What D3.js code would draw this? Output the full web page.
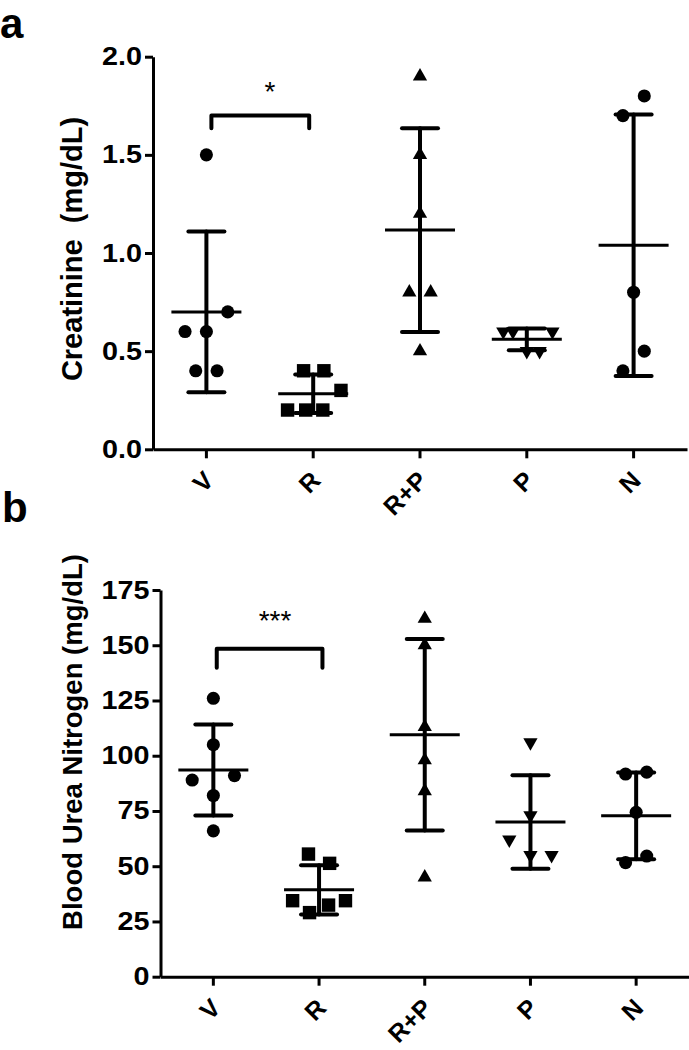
<!DOCTYPE html>
<html>
<head>
<meta charset="utf-8">
<script src="https://cdn.jsdelivr.net/npm/d3@7"></script>
<style>
  html, body { margin: 0; padding: 0; background: #fff; }
  svg { display: block; font-family: "Liberation Sans", Arial, sans-serif; }
</style>
</head>
<body>
<svg id="chart" width="689" height="1050"></svg>
<script>
// ---------- data ----------
const categories = ["V", "R", "R+P", "P", "N"];
const symbols = ["circle", "square", "triangle", "triangleDown", "circle"];

// Panel a: Creatinine (mg/dL)
const creatValues = [
  [1.5, 0.7, 0.6, 0.6, 0.4, 0.4],
  [0.4, 0.4, 0.3, 0.2, 0.2, 0.2],
  [1.9, 1.5, 1.2, 0.8, 0.8, 0.5],
  [0.6, 0.6, 0.6, 0.5, 0.5],
  [1.8, 1.7, 0.8, 0.5, 0.4]
];
const creatSpread = [
  [0, 2, -2, 0, -1, 1],
  [-0.9, 1, 2.6, -2.4, -0.7, 0.9],
  [0, 0, 0, -1, 1, 0],
  [-2.2, -1.3, 2.4, 0, 1.2],
  [1, -1, 0, 1, -1]
];
const creatMean = [0.70, 0.283, 1.117, 0.56, 1.04];
const creatSD = [0.41, 0.098, 0.519, 0.055, 0.666];
const creatTicks = [0, 0.5, 1.0, 1.5, 2.0];

// Panel b: Blood Urea Nitrogen (mg/dL)
const bunValues = [
  [126, 105, 91, 89, 82, 66],
  [55.5, 51.3, 34.4, 34.4, 32.4, 29],
  [162, 150, 113, 98, 84, 45],
  [106, 73, 62, 55, 55],
  [92.6, 91.7, 74.4, 54.6, 51.6]
];
const bunSpread = [
  [0, 0, 2, -2, 0, 0],
  [-1, 1, -2.5, 2.5, 0.9, -0.9],
  [0, 0, 0, 0, 0, 0],
  [0, 0, -2, 0, 2],
  [1, -1, 0, 1, -1]
];
const bunMean = [93.5, 39.3, 109.5, 70.0, 72.8];
const bunSD = [20.6, 11.1, 43.3, 21.2, 19.6];
const bunTicks = [0, 25, 50, 75, 100, 125, 150, 175];

// ---------- drawing ----------
const svg = d3.select("#chart");
const FONT = "Liberation Sans, Arial, sans-serif";
const TICK_STRETCH = 1.15;

function symbolPath(type) {
  if (type === "circle") return d3.symbol(d3.symbolCircle, 135)();
  if (type === "square") return d3.symbol(d3.symbolSquare, 180)();
  return d3.symbol(d3.symbolTriangle, 88)();
}

function drawPanel(cfg) {
  const g = svg.append("g");
  const x = d3.scaleBand().domain(categories).range([cfg.left, cfg.right]).paddingInner(0).paddingOuter(0);
  const y = d3.scaleLinear().domain([0, cfg.max]).range([cfg.bottom, cfg.top]);
  const step = x.step();
  const cx = c => x(c) + x.bandwidth() / 2;

  // y axis
  const yAxis = g.append("g")
    .attr("transform", `translate(${cfg.left},0)`)
    .call(d3.axisLeft(y).tickValues(cfg.ticks).tickFormat(cfg.fmt).tickSize(8).tickSizeOuter(0).tickPadding(3));
  yAxis.select(".domain").attr("stroke-width", 3);
  yAxis.selectAll(".tick line").attr("stroke-width", 3);
  yAxis.selectAll(".tick text")
    .attr("font-size", 25).attr("font-weight", "bold").attr("fill", "#000")
    .attr("font-family", FONT)
    .attr("x", -11 / TICK_STRETCH)
    .attr("transform", `scale(${TICK_STRETCH},1)`);

  // x axis
  const xAxis = g.append("g")
    .attr("transform", `translate(0,${cfg.bottom})`)
    .call(d3.axisBottom(x).tickSize(9).tickSizeOuter(0).tickFormat(""));
  xAxis.select(".domain").attr("stroke-width", 3);
  xAxis.selectAll(".tick line").attr("stroke-width", 3);
  xAxis.selectAll(".tick").append("text")
    .attr("transform", `translate(${cfg.labelDx},${cfg.labelDy}) rotate(-45)`)
    .attr("text-anchor", "end")
    .attr("dy", "0.72em")
    .attr("font-size", 25).attr("font-weight", "bold").attr("fill", "#000")
    .attr("font-family", FONT)
    .text(d => d);

  // points
  categories.forEach((c, i) => {
    const vals = cfg.values[i];
    const spread = cfg.spread[i];
    const type = symbols[i];
    g.append("g").selectAll("path")
      .data(vals.map((v, j) => ({ v, s: spread[j] })))
      .join("path")
      .attr("d", symbolPath(type))
      .attr("transform", d => `translate(${cx(c) + d.s * step / 10},${y(d.v)})` + (type === "triangleDown" ? " rotate(180)" : ""))
      .attr("fill", "#000");
  });

  // mean and SD
  categories.forEach((c, i) => {
    const m = cfg.mean[i], s = cfg.sd[i];
    const xc = cx(c);
    const eg = g.append("g").attr("stroke", "#000").attr("stroke-linecap", "round");
    eg.append("line").attr("x1", xc).attr("x2", xc).attr("y1", y(m + s)).attr("y2", y(m - s)).attr("stroke-width", 4);
    eg.append("line").attr("x1", xc - 18).attr("x2", xc + 18).attr("y1", y(m + s)).attr("y2", y(m + s)).attr("stroke-width", 4);
    eg.append("line").attr("x1", xc - 18).attr("x2", xc + 18).attr("y1", y(m - s)).attr("y2", y(m - s)).attr("stroke-width", 4);
    eg.append("line").attr("x1", xc - 35).attr("x2", xc + 35).attr("y1", y(m)).attr("y2", y(m))
      .attr("stroke-width", 3).attr("stroke-linecap", "butt");
  });

  // significance bracket
  const bx1 = cx(categories[0]) + cfg.bracketInset;
  const bx2 = cx(categories[1]) + cfg.bracketInset2;
  const byTop = y(cfg.bracketTop), byBot = y(cfg.bracketBottom);
  g.append("path")
    .attr("d", `M${bx1},${byBot} L${bx1},${byTop} L${bx2},${byTop} L${bx2},${byBot}`)
    .attr("fill", "none").attr("stroke", "#000").attr("stroke-width", 4)
    .attr("stroke-linecap", "round").attr("stroke-linejoin", "round");
  g.append("text")
    .attr("x", cfg.starX).attr("y", cfg.starY)
    .attr("text-anchor", "middle").attr("font-size", 28).attr("fill", "#000")
    .attr("font-family", FONT)
    .text(cfg.stars);

  // y title
  g.append("text")
    .attr("transform", `translate(${cfg.titleX},${cfg.titleY}) rotate(-90)`)
    .attr("text-anchor", "middle")
    .attr("font-size", cfg.titleSize).attr("font-weight", "bold").attr("fill", "#000")
    .attr("font-family", FONT)
    .style("white-space", "pre")
    .text(cfg.title);

  // panel letter
  g.append("text")
    .attr("x", cfg.letterX).attr("y", cfg.letterY)
    .attr("font-size", 42).attr("font-weight", "bold").attr("fill", "#000")
    .attr("font-family", FONT)
    .text(cfg.letter);
}

drawPanel({
  values: creatValues, spread: creatSpread, mean: creatMean, sd: creatSD,
  ticks: creatTicks, fmt: d3.format(".1f"), max: 2.0,
  left: 153, right: 687, top: 56.7, bottom: 449.3, labelDx: -4, labelDy: 20,
  bracketTop: 1.70, bracketBottom: 1.636, bracketInset: 5, bracketInset2: -4,
  starX: 270, starY: 101, stars: "*",
  title: "Creatinine  (mg/dL)", titleSize: 29, titleX: 82, titleY: 249,
  letter: "a", letterX: 0, letterY: 38
});

drawPanel({
  values: bunValues, spread: bunSpread, mean: bunMean, sd: bunSD,
  ticks: bunTicks, fmt: d3.format("d"), max: 175,
  left: 160.5, right: 689, top: 590, bottom: 976.7, labelDx: -4, labelDy: 20,
  bracketTop: 148.4, bracketBottom: 139.8, bracketInset: 3.4, bracketInset2: 3.4,
  starX: 275, starY: 630, stars: "***",
  title: "Blood Urea Nitrogen (mg/dL)", titleSize: 27.5, titleX: 82, titleY: 742,
  letter: "b", letterX: 2, letterY: 522
});
</script>
</body>
</html>
